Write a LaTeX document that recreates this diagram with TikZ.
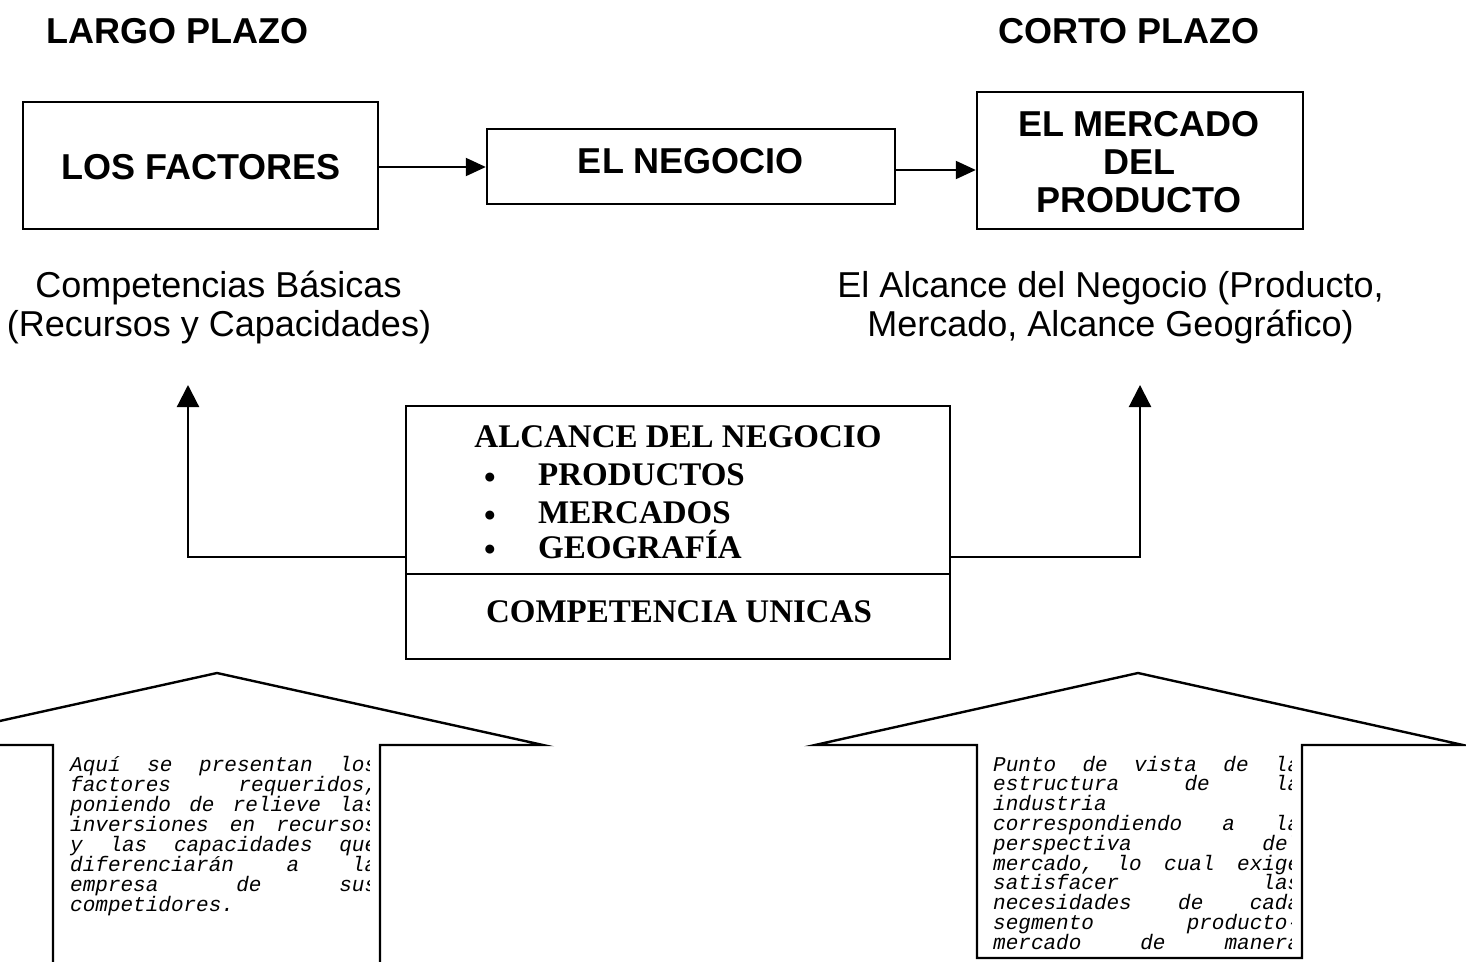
\documentclass[tikz,border=0pt]{standalone}
\usepackage{fontspec}
\usetikzlibrary{arrows.meta}
\newfontfamily\arialf{Liberation Sans}
\newfontfamily\timesf{Liberation Serif}
\newfontfamily\monof{Liberation Mono}
\tikzset{
  box/.style={draw, line width=2.4pt, inner sep=0pt},
  hdr/.style={font=\arialf\bfseries\fontsize{36}{38}\selectfont, inner sep=0pt, anchor=base},
  sub/.style={font=\arialf\fontsize{36}{39}\selectfont, inner sep=0pt, anchor=base},
  tb/.style={font=\timesf\bfseries\fontsize{33}{38}\selectfont, inner sep=0pt},
  mono/.style={font=\monof\itshape\fontsize{21}{20}\selectfont, inner sep=0pt, anchor=base west},
  harr/.style={line width=2pt, -{Triangle[length=20pt,width=18pt]}},
  varr/.style={line width=2.2pt, -{Triangle[length=22pt,width=22pt]}},
  bigarr/.style={line width=2.4pt, line join=miter},
}
\begin{document}
\begin{tikzpicture}[x=1pt,y=-1pt]
\useasboundingbox (0,0) rectangle (1466,961);
% headings
\node[hdr] (largo) at (177.5,43) {LARGO PLAZO};
\node[hdr] (corto) at (1129,43) {CORTO PLAZO};
% top boxes
\node[box, minimum width=355pt, minimum height=127pt] (factores) at (200.5,165.5) {};
\node[hdr] (factorest) at (201,179) {LOS FACTORES};
\node[box, minimum width=408pt, minimum height=75pt] (negocio) at (691,166.5) {};
\node[hdr] (negociot) at (691,173) {EL NEGOCIO};
\node[box, minimum width=326pt, minimum height=137pt] (mercado) at (1140,160.5) {};
\node[hdr] (mercado1) at (1139,136) {EL MERCADO};
\node[hdr] (mercado2) at (1139,174) {DEL};
\node[hdr] (mercado3) at (1139,212) {PRODUCTO};
% arrows between boxes
\coordinate (ya) at (0,167);
\coordinate (yb) at (0,170);
\draw[harr] (factores.east |- ya) -- (negocio.west |- ya);
\draw[harr] (negocio.east |- yb) -- (mercado.west |- yb);
% subtitles
\node[sub] (comp1) at (218.5,297) {Competencias Básicas};
\node[sub] (comp2) at (219,336) {(Recursos y Capacidades)};
\node[sub] (alc1) at (1110.5,297) {El Alcance del Negocio (Producto,};
\node[sub] (alc2) at (1110.5,336) {Mercado, Alcance Geográfico)};
% center box
\node[box, minimum width=544pt, minimum height=253pt] (cbox) at (678,532.5) {};
\coordinate (ydiv) at (0,574);
\draw[line width=2.4pt] (cbox.west |- ydiv) -- (cbox.east |- ydiv);
\node[tb, anchor=base] (ctitle) at (678,447) {ALCANCE DEL NEGOCIO};
\node[tb, anchor=base] (b1) at (490,488) {•};
\node[tb, anchor=base] (b2) at (490,526) {•};
\node[tb, anchor=base] (b3) at (490,560) {•};
\node[tb, anchor=base west] (i1) at (538,485) {PRODUCTOS};
\node[tb, anchor=base west] (i2) at (538,523) {MERCADOS};
\node[tb, anchor=base west] (i3) at (538,558) {GEOGRAFÍA};
\node[tb, anchor=base] (cunicas) at (679,622) {COMPETENCIA UNICAS};
% connectors up
\coordinate (lh) at (0,557);
\coordinate (lt) at (188,385);
\coordinate (rt) at (1140,385);
\draw[varr] (cbox.west |- lh) -| (lt);
\draw[varr] (cbox.east |- lh) -| (rt);
% big arrows
\begin{scope}
\clip (0,0) rectangle (1466,961);
\draw[bigarr] (53,975) -- (53,745) -- (-109,745) -- (217,673) -- (543,745) -- (380,745) -- (380,975);
\draw[bigarr] (977,958) -- (977,745) -- (815,745) -- (1138,673) -- (1463,745) -- (1302,745) -- (1302,958) -- cycle;
\end{scope}
% left text
\begin{scope}
\clip (60,750) rectangle (369,961);
\node[mono] (la1) at (70,771) {\hbox to 307pt{Aquí\hfill se\hfill presentan\hfill los}};
\node[mono] (la2) at (70,791) {\hbox to 307pt{factores\hfill requeridos,}};
\node[mono] (la3) at (70,811) {\hbox to 307pt{poniendo\hfill de\hfill relieve\hfill las}};
\node[mono] (la4) at (70,831) {\hbox to 307pt{inversiones\hfill en\hfill recursos}};
\node[mono] (la5) at (70,851) {\hbox to 307pt{y\hfill las\hfill capacidades\hfill que}};
\node[mono] (la6) at (70,871) {\hbox to 307pt{diferenciarán\hfill a\hfill la}};
\node[mono] (la7) at (70,891) {\hbox to 307pt{empresa\hfill de\hfill sus}};
\node[mono] (la8) at (70,911) {competidores.};
\end{scope}
% right text
\begin{scope}
\clip (985,750) rectangle (1291,952);
\node[mono] (ra1) at (993,771) {\hbox to 307pt{Punto\hfill de\hfill vista\hfill de\hfill la}};
\node[mono] (ra2) at (993,790.8) {\hbox to 307pt{estructura\hfill de\hfill la}};
\node[mono] (ra3) at (993,810.6) {industria};
\node[mono] (ra4) at (993,830.4) {\hbox to 307pt{correspondiendo\hfill a\hfill la}};
\node[mono] (ra5) at (993,850.2) {\hbox to 307pt{perspectiva\hfill del}};
\node[mono] (ra6) at (993,870) {\hbox to 307pt{mercado,\hfill lo\hfill cual\hfill exige}};
\node[mono] (ra7) at (993,889.8) {\hbox to 307pt{satisfacer\hfill las}};
\node[mono] (ra8) at (993,909.6) {\hbox to 307pt{necesidades\hfill de\hfill cada}};
\node[mono] (ra9) at (993,929.4) {\hbox to 307pt{segmento\hfill producto-}};
\node[mono] (ra10) at (993,949.2) {\hbox to 307pt{mercado\hfill de\hfill manera}};
\end{scope}
\end{tikzpicture}
\end{document}
